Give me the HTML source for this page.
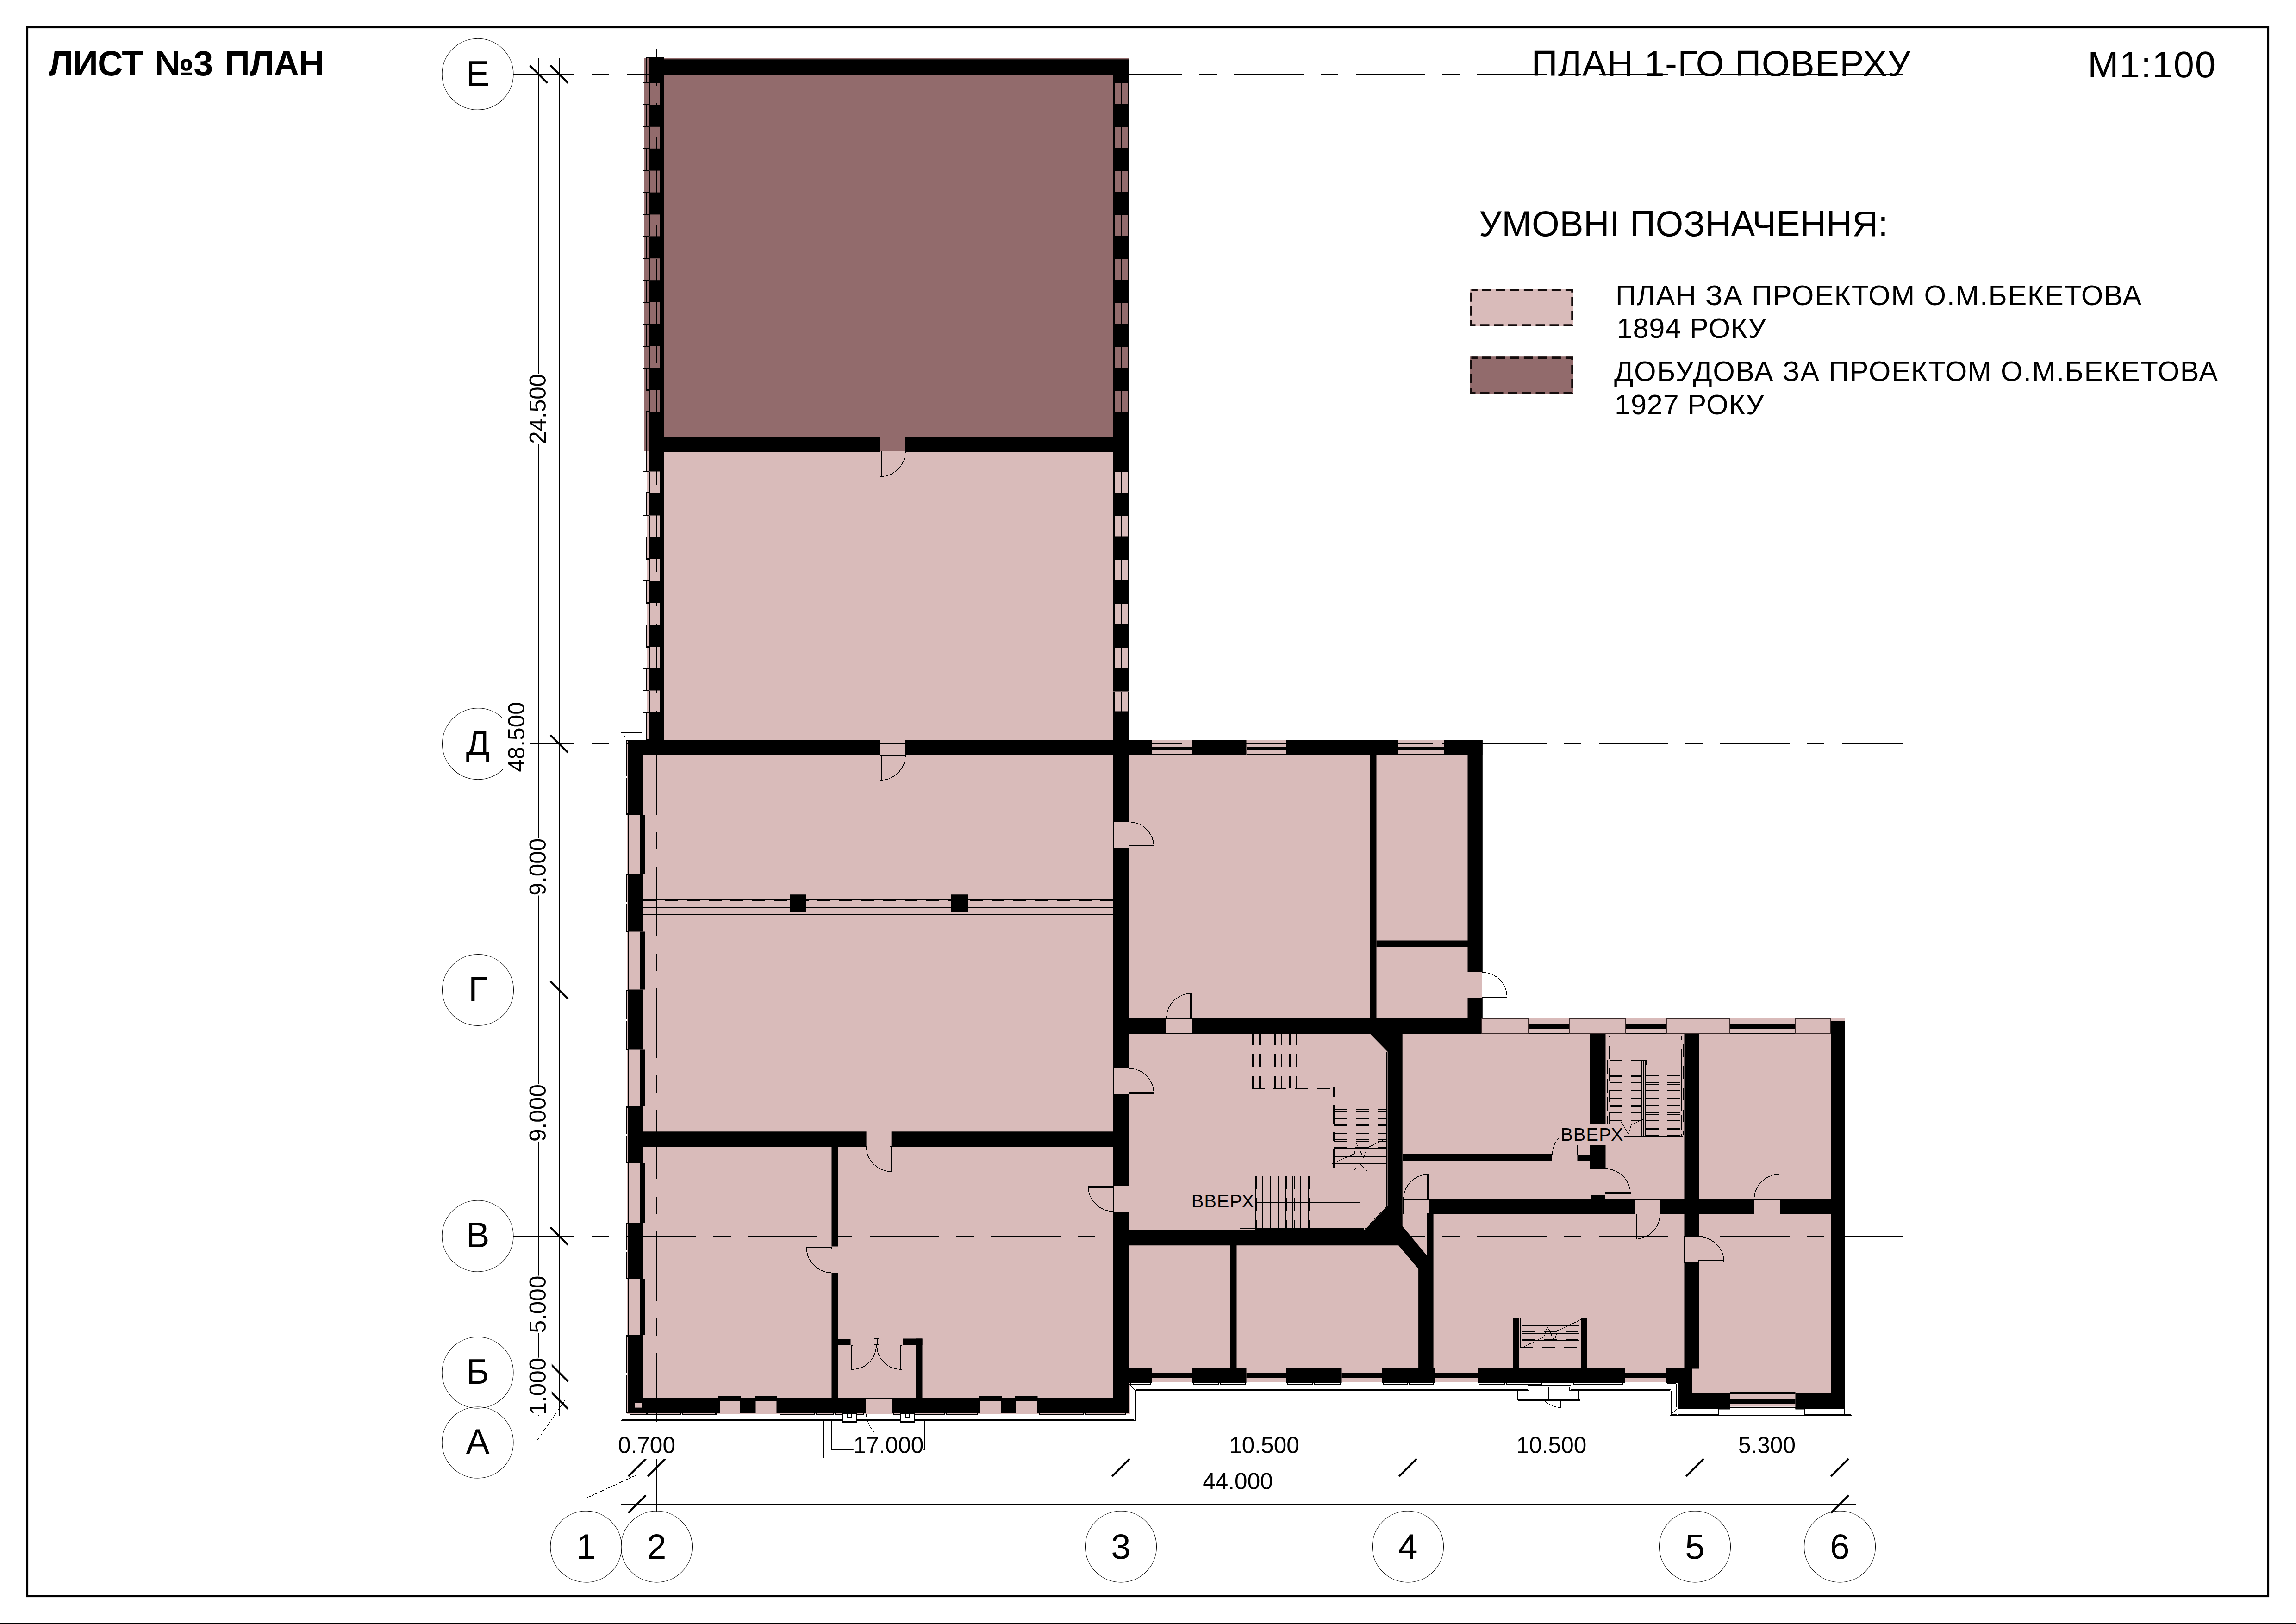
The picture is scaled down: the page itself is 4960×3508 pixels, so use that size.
<!DOCTYPE html>
<html lang="uk"><head><meta charset="utf-8"><title>ПЛАН 1-ГО ПОВЕРХУ</title>
<style>
html,body{margin:0;padding:0;background:#fff;}
body{width:4960px;height:3508px;overflow:hidden;}
svg{display:block;}
text{fill:#000;}
</style></head><body>
<svg width="4960" height="3508" viewBox="0 0 4960 3508">
<rect width="4960" height="3508" fill="#fff"/>
<g id="fills">
<rect x="1392" y="126" width="1047.6" height="848" fill="#926b6c"/>
<path fill="#d9bbba" d="M1398 974H2439.6V1598H3202V2200H3985V3044H3625V2986H2442V3055H1354V1598H1398Z"/>
<rect x="3737.5" y="3038.5" width="141" height="6" fill="#fff"/>
</g>
<g id="axes" stroke="#000" stroke-width="1" fill="none" shape-rendering="crispEdges">
<line x1="1109" y1="160.3" x2="4110" y2="160.3" stroke-dasharray="150 37.5 37.5 37.5" stroke-dashoffset="18"/>
<line x1="1109" y1="1606.8" x2="4110" y2="1606.8" stroke-dasharray="150 37.5 37.5 37.5" stroke-dashoffset="18"/>
<line x1="1109" y1="2138.5" x2="4110" y2="2138.5" stroke-dasharray="150 37.5 37.5 37.5" stroke-dashoffset="18"/>
<line x1="1109" y1="2670" x2="4110" y2="2670" stroke-dasharray="150 37.5 37.5 37.5" stroke-dashoffset="18"/>
<line x1="1109" y1="2965" x2="4110" y2="2965" stroke-dasharray="150 37.5 37.5 37.5" stroke-dashoffset="18"/>
<line x1="1225" y1="3024.3" x2="4110" y2="3024.3" stroke-dasharray="150 37.5 37.5 37.5" stroke-dashoffset="78.5"/>
<line x1="1418.5" y1="106" x2="1418.5" y2="3072" stroke-dasharray="150 37.5 37.5 37.5" stroke-dashoffset="71.5"/>
<line x1="1418.5" y1="3110" x2="1418.5" y2="3265"/>
<line x1="3041.5" y1="106" x2="3041.5" y2="3072" stroke-dasharray="150 37.5 37.5 37.5" stroke-dashoffset="71.5"/>
<line x1="3041.5" y1="3110" x2="3041.5" y2="3265"/>
<line x1="3661.5" y1="106" x2="3661.5" y2="3072" stroke-dasharray="150 37.5 37.5 37.5" stroke-dashoffset="71.5"/>
<line x1="3661.5" y1="3110" x2="3661.5" y2="3265"/>
<line x1="3974.5" y1="106" x2="3974.5" y2="3072" stroke-dasharray="150 37.5 37.5 37.5" stroke-dashoffset="71.5"/>
<line x1="3974.5" y1="3110" x2="3974.5" y2="3265"/>
<line x1="2421.5" y1="106" x2="2421.5" y2="3072" stroke-dasharray="150 37.5 37.5 37.5" stroke-dashoffset="71.5"/>
<line x1="2421.5" y1="3052" x2="2421.5" y2="3072"/>
<line x1="2421.5" y1="3110" x2="2421.5" y2="3265"/>
<line x1="1376.3" y1="1516" x2="1376.3" y2="1598"/>
<line x1="1376.3" y1="3062" x2="1376.3" y2="3095"/>
<line x1="1376.3" y1="3145" x2="1376.3" y2="3282"/>
<line x1="3974.5" y1="3265" x2="3974.5" y2="3282"/>
</g>
<g id="walls" fill="#000">
<rect x="1420" y="128.3" width="1019.6" height="32.7"/>
<rect x="1425" y="160" width="10" height="1438"/>
<rect x="1402" y="123.2" width="33" height="56.8"/>
<rect x="1402" y="160" width="33" height="19"/>
<rect x="1402" y="226" width="33" height="47.8"/>
<rect x="1402" y="320.8" width="33" height="47.8"/>
<rect x="1402" y="415.6" width="33" height="47.8"/>
<rect x="1402" y="510.4" width="33" height="47.8"/>
<rect x="1402" y="605.2" width="33" height="47.8"/>
<rect x="1402" y="700" width="33" height="47.8"/>
<rect x="1402" y="794.8" width="33" height="47.8"/>
<rect x="1402" y="889.6" width="33" height="128.9"/>
<rect x="1402" y="1064.5" width="33" height="49"/>
<rect x="1402" y="1160" width="33" height="47.5"/>
<rect x="1402" y="1254" width="33" height="48.5"/>
<rect x="1402" y="1350" width="33" height="47.5"/>
<rect x="1402" y="1444" width="33" height="47.5"/>
<rect x="1402" y="1539" width="33" height="59"/>
<rect x="2405" y="160" width="34" height="20"/>
<rect x="2405" y="224" width="34" height="51"/>
<rect x="2405" y="319" width="34" height="51"/>
<rect x="2405" y="414" width="34" height="51"/>
<rect x="2405" y="509" width="34" height="51"/>
<rect x="2405" y="604" width="34" height="51"/>
<rect x="2405" y="699" width="34" height="51"/>
<rect x="2405" y="794" width="34" height="51"/>
<rect x="2405" y="889" width="34" height="131"/>
<rect x="2405" y="1064" width="34" height="51"/>
<rect x="2405" y="1158.5" width="34" height="50.5"/>
<rect x="2405" y="1252.5" width="34" height="51.5"/>
<rect x="2405" y="1347.5" width="34" height="51.5"/>
<rect x="2405" y="1442.5" width="34" height="51"/>
<rect x="2405" y="1536.5" width="34" height="61.5"/>
<rect x="1435" y="943" width="466" height="33"/>
<rect x="1956" y="943" width="449" height="33"/>
<rect x="1357" y="1598" width="543" height="33"/>
<rect x="1956.5" y="1598" width="532" height="33"/>
<rect x="2574" y="1598" width="118.5" height="33"/>
<rect x="2779" y="1598" width="242" height="33"/>
<rect x="3120" y="1598" width="82.5" height="33"/>
<rect x="1357" y="1598" width="33" height="162"/>
<rect x="1357" y="1887.5" width="33" height="125"/>
<rect x="1357" y="2137.5" width="33" height="130"/>
<rect x="1357" y="2390" width="33" height="122.5"/>
<rect x="1357" y="2641.5" width="33" height="121"/>
<rect x="1357" y="2884" width="33" height="168.5"/>
<rect x="1382.5" y="1760" width="11" height="127.5"/>
<rect x="1382.5" y="2012.5" width="11" height="125"/>
<rect x="1382.5" y="2267.5" width="11" height="122.5"/>
<rect x="1382.5" y="2512.5" width="11" height="129"/>
<rect x="1382.5" y="2762.5" width="11" height="121.5"/>
<rect x="1357" y="3020" width="198" height="32.5"/>
<rect x="1599" y="3020" width="33.5" height="32.5"/>
<rect x="1677.5" y="3020" width="191.5" height="32.5"/>
<rect x="1926" y="3020" width="191.5" height="32.5"/>
<rect x="2162.5" y="3020" width="32.5" height="32.5"/>
<rect x="2240" y="3020" width="198.5" height="32.5"/>
<rect x="1552" y="3016" width="49" height="11"/>
<rect x="1630" y="3016" width="49" height="11"/>
<rect x="2115" y="3016" width="49" height="11"/>
<rect x="2192.5" y="3016" width="49" height="11"/>
<rect x="1372" y="3031" width="14.7" height="9.6" fill="#d9bbba"/>
<rect x="2405" y="1598" width="33.5" height="177"/>
<rect x="2405" y="1831.5" width="33.5" height="476"/>
<rect x="2405" y="2364" width="33.5" height="197"/>
<rect x="2405" y="2617.5" width="33.5" height="435"/>
<rect x="1390" y="2444.3" width="481.6" height="32.7"/>
<rect x="1925.7" y="2444.3" width="479.3" height="32.7"/>
<rect x="1796.5" y="2476" width="14.5" height="216.5"/>
<rect x="1796.5" y="2749" width="14.5" height="271"/>
<rect x="1811" y="2892.5" width="26.5" height="13.5"/>
<rect x="1950" y="2891.5" width="42.5" height="14.5"/>
<rect x="1978.5" y="2891.5" width="14" height="128.5"/>
<rect x="1706" y="1932.5" width="36" height="36.5"/>
<rect x="2054" y="1932.5" width="37" height="36.5"/>
<rect x="3170.5" y="1598" width="32.3" height="501.4"/>
<rect x="3170.5" y="2155.4" width="32.3" height="77.6"/>
<rect x="2438" y="2200" width="80.5" height="33"/>
<rect x="2575" y="2200" width="627.8" height="33"/>
<rect x="2960" y="1631" width="13.5" height="569"/>
<rect x="2973.5" y="2031.5" width="197.5" height="13.5"/>
<path d="M2958.6 2232H3029.7V2648.7L3082.6 2712.2V2620.6H3096.6V2956H3064.1V2741L3021.2 2690.3H2438V2657.5H2947.3L2997.6 2605.8V2271.7Z"/>
<rect x="2657.5" y="2690" width="14" height="266"/>
<rect x="2438.5" y="2956" width="50" height="31.5"/>
<rect x="2575" y="2956" width="117.5" height="31.5"/>
<rect x="2779" y="2956" width="119.5" height="31.5"/>
<rect x="2985" y="2956" width="114" height="31.5"/>
<rect x="3192.5" y="2956" width="317.5" height="31.5"/>
<rect x="3598.5" y="2956" width="26.5" height="31.5"/>
<rect x="2488.5" y="2965.5" width="86.5" height="11.5"/>
<rect x="2692.5" y="2965.5" width="86.5" height="11.5"/>
<rect x="2898.5" y="2965.5" width="86.5" height="11.5"/>
<rect x="3099" y="2965.5" width="93.5" height="11.5"/>
<rect x="3510" y="2965.5" width="88.5" height="11.5"/>
<rect x="3302" y="2211" width="88" height="11.5"/>
<rect x="3512" y="2211" width="88" height="11.5"/>
<rect x="3737" y="2211" width="141" height="11.5"/>
<rect x="3955" y="2205" width="30" height="838.5"/>
<rect x="3638.5" y="2232.5" width="31.5" height="437.5"/>
<rect x="3638.5" y="2727.5" width="31.5" height="229"/>
<rect x="3625" y="2956" width="31" height="87.5"/>
<rect x="3625" y="3010" width="112.5" height="33.5"/>
<rect x="3878.5" y="3010" width="106.5" height="33.5"/>
<rect x="3737.5" y="3007" width="141" height="5"/>
<rect x="3737.5" y="3021.2" width="141" height="11"/>
<rect x="3713" y="3042" width="24.5" height="2.5"/>
<rect x="3878.5" y="3042" width="18.5" height="2.5"/>
<rect x="3088" y="2590.3" width="442" height="31.7"/>
<rect x="3587.5" y="2590.3" width="201" height="31.7"/>
<rect x="3845" y="2590.3" width="110" height="31.7"/>
<rect x="3030" y="2493" width="322.5" height="14"/>
<rect x="3407.5" y="2495" width="27.5" height="12"/>
<rect x="3435" y="2474" width="33.5" height="51"/>
<rect x="3435" y="2232.5" width="33.5" height="196"/>
<rect x="3437" y="2581" width="31" height="10"/>
<rect x="3268.5" y="2846.5" width="13" height="109.5"/>
<rect x="3416" y="2846.5" width="13" height="109.5"/>
</g>
<g id="thin" stroke="#000" stroke-width="1" fill="none" shape-rendering="crispEdges">
<path d="M1901.2 974.5L1901.2 1029.5L1904.4 1029.5L1904.4 974.5Z" stroke-width="1.4"/>
<path d="M1904.4 1029.5A55 55 0 0 0 1956 974.5" stroke-width="1.4"/>
<path d="M1901.5 1631L1901.5 1685L1904.7 1685L1904.7 1631Z" stroke-width="1.4"/>
<path d="M1904.7 1685A54 54 0 0 0 1956 1631" stroke-width="1.4"/>
<path d="M2438.5 1829.5L2492.5 1829.5L2492.5 1826.3L2438.5 1826.3Z" stroke-width="1.4"/>
<path d="M2492.5 1826.3A54 54 0 0 0 2438.5 1775.5" stroke-width="1.4"/>
<path d="M2574 2200L2574 2146L2570.8 2146L2570.8 2200Z" stroke-width="1.4"/>
<path d="M2570.8 2146A54 54 0 0 0 2520 2200" stroke-width="1.4"/>
<path d="M3201.5 2154.8L3255.5 2154.8L3255.5 2151.6L3201.5 2151.6Z" stroke-width="1.4"/>
<path d="M3255.5 2151.6A54 54 0 0 0 3201.5 2100.5" stroke-width="1.4"/>
<path d="M2438.5 2362L2492.5 2362L2492.5 2358.8L2438.5 2358.8Z" stroke-width="1.4"/>
<path d="M2492.5 2358.8A54 54 0 0 0 2438.5 2308" stroke-width="1.4"/>
<path d="M2405 2562.5L2351 2562.5L2351 2565.7L2405 2565.7Z" stroke-width="1.4"/>
<path d="M2351 2565.7A54 54 0 0 0 2405 2616.5" stroke-width="1.4"/>
<path d="M1925.7 2476L1925.7 2530.5L1922.5 2530.5L1922.5 2476Z" stroke-width="1.4"/>
<path d="M1922.5 2530.5A54.5 54.5 0 0 1 1871.6 2476" stroke-width="1.4"/>
<path d="M1796.5 2695L1742.5 2695L1742.5 2698.2L1796.5 2698.2Z" stroke-width="1.4"/>
<path d="M1742.5 2698.2A54 54 0 0 0 1796.5 2749" stroke-width="1.4"/>
<path d="M1839 2906L1839 2958L1842.2 2958L1842.2 2906Z" stroke-width="1.4"/>
<path d="M1842.2 2958A52 52 0 0 0 1893 2906" stroke-width="1.4"/>
<path d="M1948.5 2906L1948.5 2958L1945.3 2958L1945.3 2906Z" stroke-width="1.4"/>
<path d="M1945.3 2958A52 52 0 0 1 1894.5 2906" stroke-width="1.4"/>
<path d="M3086 2591L3086 2537L3082.8 2537L3082.8 2591Z" stroke-width="1.4"/>
<path d="M3082.8 2537A54 54 0 0 0 3032 2591" stroke-width="1.4"/>
<path d="M3532 2622.5L3532 2676.5L3535.2 2676.5L3535.2 2622.5Z" stroke-width="1.4"/>
<path d="M3535.2 2676.5A54 54 0 0 0 3586 2622.5" stroke-width="1.4"/>
<path d="M3843.5 2591L3843.5 2537L3840.3 2537L3840.3 2591Z" stroke-width="1.4"/>
<path d="M3840.3 2537A54 54 0 0 0 3789.5 2591" stroke-width="1.4"/>
<path d="M3670 2726L3724 2726L3724 2722.8L3670 2722.8Z" stroke-width="1.4"/>
<path d="M3724 2722.8A54 54 0 0 0 3670 2672" stroke-width="1.4"/>
<path d="M3468 2579L3522 2579L3522 2575.8L3468 2575.8Z" stroke-width="1.4"/>
<path d="M3522 2575.8A54 54 0 0 0 3468 2525" stroke-width="1.4"/>
<path d="M3353 2495Q3355 2466 3372 2456"/>
<path d="M1889.4 2892H1897.8M1889.4 2905H1897.8" stroke-width="2"/>
<path d="M1892 2892V2905M1895 2892V2905M1893.5 2905V2912" stroke-width="1"/>
<path d="M3407.5 2474V2495"/>
<rect x="1900" y="1598" width="56.5" height="33"/>
<rect x="2405" y="1775" width="33.5" height="56.5"/>
<rect x="2518.5" y="2200" width="56.5" height="32.5"/>
<rect x="3171" y="2099.4" width="30.5" height="56"/>
<rect x="2405" y="2307.5" width="33.5" height="56.5"/>
<rect x="2405" y="2561" width="33.5" height="56.5"/>
<rect x="3031" y="2591" width="56.5" height="31.5"/>
<rect x="3530" y="2591" width="57.5" height="31.5"/>
<rect x="3788.5" y="2591" width="56.5" height="31.5"/>
<rect x="3638.5" y="2670" width="31.5" height="57.5"/>
<rect x="1869" y="3020" width="57" height="32.5"/>
<rect x="3200" y="2200.5" width="102" height="32" fill="#d9bbba" stroke="#3a2a2a" stroke-width="1.5"/>
<rect x="3390" y="2200.5" width="122" height="32" fill="#d9bbba" stroke="#3a2a2a" stroke-width="1.5"/>
<rect x="3600" y="2200.5" width="137" height="32" fill="#d9bbba" stroke="#3a2a2a" stroke-width="1.5"/>
<rect x="3878" y="2200.5" width="77" height="32" fill="#d9bbba" stroke="#3a2a2a" stroke-width="1.5"/>
<path d="M3302 2201H3390M3302 2232H3390"/>
<path d="M3512 2201H3600M3512 2232H3600"/>
<path d="M3737 2201H3878M3737 2232H3878"/>
<path d="M1386.5 108V1582.5M1388.8 110.5V1585"/>
<path d="M1386.5 108H1430.6V123M1388.5 110.5H1430"/>
<path d="M1402.5 124.5H1396V179H1402.5" stroke-width="2.6"/>
<path d="M1402.5 226H1396V273.8H1402.5" stroke-width="2.6"/>
<path d="M1402.5 320.8H1396V368.6H1402.5" stroke-width="2.6"/>
<path d="M1402.5 415.6H1396V463.4H1402.5" stroke-width="2.6"/>
<path d="M1402.5 510.4H1396V558.2H1402.5" stroke-width="2.6"/>
<path d="M1402.5 605.2H1396V653H1402.5" stroke-width="2.6"/>
<path d="M1402.5 700H1396V747.8H1402.5" stroke-width="2.6"/>
<path d="M1402.5 794.8H1396V842.6H1402.5" stroke-width="2.6"/>
<path d="M1402.5 889.6H1396V1018.5H1402.5" stroke-width="2.6"/>
<path d="M1402.5 1064.5H1396V1113.5H1402.5" stroke-width="2.6"/>
<path d="M1402.5 1160H1396V1207.5H1402.5" stroke-width="2.6"/>
<path d="M1402.5 1254H1396V1302.5H1402.5" stroke-width="2.6"/>
<path d="M1402.5 1350H1396V1397.5H1402.5" stroke-width="2.6"/>
<path d="M1402.5 1444H1396V1491.5H1402.5" stroke-width="2.6"/>
<path d="M1402.5 1539H1396V1598H1402.5" stroke-width="2.6"/>
<path d="M1389.5 179H1396M1389.5 226H1396M1403.7 179V226" stroke-width="1.4"/>
<path d="M1389.5 273.8H1396M1389.5 320.8H1396M1403.7 273.8V320.8" stroke-width="1.4"/>
<path d="M1389.5 368.6H1396M1389.5 415.6H1396M1403.7 368.6V415.6" stroke-width="1.4"/>
<path d="M1389.5 463.4H1396M1389.5 510.4H1396M1403.7 463.4V510.4" stroke-width="1.4"/>
<path d="M1389.5 558.2H1396M1389.5 605.2H1396M1403.7 558.2V605.2" stroke-width="1.4"/>
<path d="M1389.5 653H1396M1389.5 700H1396M1403.7 653V700" stroke-width="1.4"/>
<path d="M1389.5 747.8H1396M1389.5 794.8H1396M1403.7 747.8V794.8" stroke-width="1.4"/>
<path d="M1389.5 842.6H1396M1389.5 889.6H1396M1403.7 842.6V889.6" stroke-width="1.4"/>
<path d="M1389.5 1018.5H1396M1389.5 1064.5H1396M1403.7 1018.5V1064.5" stroke-width="1.4"/>
<path d="M1389.5 1113.5H1396M1389.5 1160H1396M1403.7 1113.5V1160" stroke-width="1.4"/>
<path d="M1389.5 1207.5H1396M1389.5 1254H1396M1403.7 1207.5V1254" stroke-width="1.4"/>
<path d="M1389.5 1302.5H1396M1389.5 1350H1396M1403.7 1302.5V1350" stroke-width="1.4"/>
<path d="M1389.5 1397.5H1396M1389.5 1444H1396M1403.7 1397.5V1444" stroke-width="1.4"/>
<path d="M1389.5 1491.5H1396M1389.5 1539H1396M1403.7 1491.5V1539" stroke-width="1.4"/>
<path d="M2406.5 180V224M2437.5 180V224" stroke-width="3"/>
<path d="M2421.5 180V224" stroke-width="2"/>
<path d="M2406.5 275V319M2437.5 275V319" stroke-width="3"/>
<path d="M2421.5 275V319" stroke-width="2"/>
<path d="M2406.5 370V414M2437.5 370V414" stroke-width="3"/>
<path d="M2421.5 370V414" stroke-width="2"/>
<path d="M2406.5 465V509M2437.5 465V509" stroke-width="3"/>
<path d="M2421.5 465V509" stroke-width="2"/>
<path d="M2406.5 560V604M2437.5 560V604" stroke-width="3"/>
<path d="M2421.5 560V604" stroke-width="2"/>
<path d="M2406.5 655V699M2437.5 655V699" stroke-width="3"/>
<path d="M2421.5 655V699" stroke-width="2"/>
<path d="M2406.5 750V794M2437.5 750V794" stroke-width="3"/>
<path d="M2421.5 750V794" stroke-width="2"/>
<path d="M2406.5 845V889M2437.5 845V889" stroke-width="3"/>
<path d="M2421.5 845V889" stroke-width="2"/>
<path d="M2406.5 1020V1064M2437.5 1020V1064" stroke-width="3"/>
<path d="M2421.5 1020V1064" stroke-width="2"/>
<path d="M2406.5 1115V1158.5M2437.5 1115V1158.5" stroke-width="3"/>
<path d="M2421.5 1115V1158.5" stroke-width="2"/>
<path d="M2406.5 1209V1252.5M2437.5 1209V1252.5" stroke-width="3"/>
<path d="M2421.5 1209V1252.5" stroke-width="2"/>
<path d="M2406.5 1304V1347.5M2437.5 1304V1347.5" stroke-width="3"/>
<path d="M2421.5 1304V1347.5" stroke-width="2"/>
<path d="M2406.5 1399V1442.5M2437.5 1399V1442.5" stroke-width="3"/>
<path d="M2421.5 1399V1442.5" stroke-width="2"/>
<path d="M2406.5 1493.5V1536.5M2437.5 1493.5V1536.5" stroke-width="3"/>
<path d="M2421.5 1493.5V1536.5" stroke-width="2"/>
<path d="M2488.5 1630H2574M2488.5 1607H2549M2488.5 1611.5H2574" stroke-width="1.5"/>
<path d="M2488.5 1616.5H2574" stroke-width="6.2"/>
<path d="M2692.5 1630H2779M2692.5 1607H2754M2692.5 1611.5H2779" stroke-width="1.5"/>
<path d="M2692.5 1616.5H2779" stroke-width="6.2"/>
<path d="M3021 1630H3120M3021 1607H3095M3021 1611.5H3120" stroke-width="1.5"/>
<path d="M3021 1616.5H3120" stroke-width="6.2"/>
<path d="M1357 1760V1887.5M1376 1785V1862.5"/>
<path d="M1357 2012.5V2137.5M1376 2037.5V2112.5"/>
<path d="M1357 2267.5V2390M1376 2292.5V2365"/>
<path d="M1357 2512.5V2641.5M1376 2537.5V2616.5"/>
<path d="M1357 2762.5V2884M1376 2787.5V2859"/>
<path d="M1357.5 1599.3H1354V1677M1354 1681V1758.7H1357.5" stroke-width="2.6"/>
<path d="M1357.5 1888.8H1354V1948M1354 1952V2011.2H1357.5" stroke-width="2.6"/>
<path d="M1357.5 2138.8H1354V2200.5M1354 2204.5V2266.2H1357.5" stroke-width="2.6"/>
<path d="M1357.5 2391.3H1354V2449.25M1354 2453.25V2511.2H1357.5" stroke-width="2.6"/>
<path d="M1357.5 2642.8H1354V2700M1354 2704V2761.2H1357.5" stroke-width="2.6"/>
<path d="M1357.5 2885.3H1354V2966.25M1354 2970.25V3051.2H1357.5" stroke-width="2.6"/>
<path d="M1389.5 1585H1343.5V3066M1386.5 1582.5H1341.5V3068.5H2452.5V3002.5M1343.5 3066H2450M1341.5 1582.5L1356 1597M2455 3001H3300V2992.4H3393V3001H3610M2452.5 3003.6H3302.8V2996.2H3390.7V3003.6H3607.5V3057.2H4000.7V3042M3610 3004.5V3055H3623M3984 3055H3998.5V3042M2440 2990L2452.5 3003.6M3607.5 3057.2L3623.5 3043M3713 3054.5H3897M3713 3056.5H3897M3737.5 3040.5H3878.5M3737.5 3043H3878.5"/>
<path d="M3625 3043V3055.7H3712V3043M3898.5 3043V3055.7H3984V3043M3621 2990V3040M3602 2989H3621" stroke-width="2.8"/>
<path d="M1361 3052V3055.5H1396.5V3052" stroke-width="2.8"/>
<path d="M1399 3052V3055.5H1470V3052" stroke-width="2.8"/>
<path d="M1474 3052V3055.5H1546.5V3052" stroke-width="2.8"/>
<path d="M1685 3052V3055.5H1760V3052" stroke-width="2.8"/>
<path d="M1764 3052V3055.5H1800V3052" stroke-width="2.8"/>
<path d="M1805 3052V3055.5H1865V3052" stroke-width="2.8"/>
<path d="M1930 3052V3055.5H2040V3052" stroke-width="2.8"/>
<path d="M2045 3052V3055.5H2111V3052" stroke-width="2.8"/>
<path d="M2246 3052V3055.5H2340V3052" stroke-width="2.8"/>
<path d="M2345 3052V3055.5H2432V3052" stroke-width="2.8"/>
<path d="M2442 2987V2990.5H2486V2987" stroke-width="2.6"/>
<path d="M2578 2987V2990.5H2632V2987" stroke-width="2.6"/>
<path d="M2636 2987V2990.5H2690V2987" stroke-width="2.6"/>
<path d="M2782 2987V2990.5H2836V2987" stroke-width="2.6"/>
<path d="M2840 2987V2990.5H2896V2987" stroke-width="2.6"/>
<path d="M2988 2987V2990.5H3040V2987" stroke-width="2.6"/>
<path d="M3044 2987V2990.5H3097V2987" stroke-width="2.6"/>
<path d="M3195 2987V2990.5H3250V2987" stroke-width="2.6"/>
<path d="M3254 2987V2990.5H3330V2987" stroke-width="2.6"/>
<path d="M3400 2987V2990.5H3505V2987" stroke-width="2.6"/>
<rect x="1820" y="3053" width="30" height="18" fill="#fff" stroke-width="3"/>
<rect x="1831" y="3053" width="8" height="8" fill="#fff" stroke-width="2"/>
<rect x="1945" y="3053" width="30" height="18" fill="#fff" stroke-width="3"/>
<rect x="1956" y="3053" width="8" height="8" fill="#fff" stroke-width="2"/>
<path d="M1778.3 3069V3149.3H2015.6V3069M1796.6 3069V3131.6H1997.5V3069M1870.7 3052.3Q1873 3078 1892 3098M1922 3052.3V3098M1924.3 3052.3V3098"/>
<path d="M1390 1926H2405M1390 1943H2405M1390 1960H2405M1390 1975.5H2405"/>
<path d="M1390 1929H2405M1390 1945.5H2405M1390 1961.5H2405" stroke-dasharray="28 19" stroke-width="1.5"/>
</g>
<rect x="1706" y="1932.5" width="36" height="36.5"/><rect x="2054" y="1932.5" width="37" height="36.5"/>
<g id="stairs" stroke="#000" stroke-width="1" fill="none" shape-rendering="crispEdges">
<path d="M2705 2232V2350" stroke-width="2" stroke-dasharray="28 19" stroke-dashoffset="2"/>
<path d="M2707.5 2232V2350" stroke-width="1" stroke-dasharray="28 19" stroke-dashoffset="2"/>
<path d="M2721 2232V2350" stroke-width="2" stroke-dasharray="28 19" stroke-dashoffset="2"/>
<path d="M2723.5 2232V2350" stroke-width="1" stroke-dasharray="28 19" stroke-dashoffset="2"/>
<path d="M2737 2232V2350" stroke-width="2" stroke-dasharray="28 19" stroke-dashoffset="2"/>
<path d="M2739.5 2232V2350" stroke-width="1" stroke-dasharray="28 19" stroke-dashoffset="2"/>
<path d="M2753 2232V2350" stroke-width="2" stroke-dasharray="28 19" stroke-dashoffset="2"/>
<path d="M2755.5 2232V2350" stroke-width="1" stroke-dasharray="28 19" stroke-dashoffset="2"/>
<path d="M2769 2232V2350" stroke-width="2" stroke-dasharray="28 19" stroke-dashoffset="2"/>
<path d="M2771.5 2232V2350" stroke-width="1" stroke-dasharray="28 19" stroke-dashoffset="2"/>
<path d="M2785 2232V2350" stroke-width="2" stroke-dasharray="28 19" stroke-dashoffset="2"/>
<path d="M2787.5 2232V2350" stroke-width="1" stroke-dasharray="28 19" stroke-dashoffset="2"/>
<path d="M2801 2232V2350" stroke-width="2" stroke-dasharray="28 19" stroke-dashoffset="2"/>
<path d="M2803.5 2232V2350" stroke-width="1" stroke-dasharray="28 19" stroke-dashoffset="2"/>
<path d="M2817 2232V2350" stroke-width="2" stroke-dasharray="28 19" stroke-dashoffset="2"/>
<path d="M2819.5 2232V2350" stroke-width="1" stroke-dasharray="28 19" stroke-dashoffset="2"/>
<path d="M2704 2348.6H2881.7V2540.8H2711.7M2704 2352.4H2877.3V2536H2711.7"/>
<path d="M2881.7 2348.6V2540.8" stroke-width="3" stroke-dasharray="20 18 40 18"/>
<path d="M2704 2352.4H2877" stroke-width="2" stroke-dasharray="28 19"/>
<path d="M2881.7 2399.5H2995.5" stroke-width="2" stroke-dasharray="28 19"/>
<path d="M2881.7 2396.5H2995.5" stroke-width="1" stroke-dasharray="28 19"/>
<path d="M2881.7 2415.85H2995.5" stroke-width="2" stroke-dasharray="28 19"/>
<path d="M2881.7 2412.85H2995.5" stroke-width="1" stroke-dasharray="28 19"/>
<path d="M2881.7 2432.2H2995.5" stroke-width="2" stroke-dasharray="28 19"/>
<path d="M2881.7 2429.2H2995.5" stroke-width="1" stroke-dasharray="28 19"/>
<path d="M2881.7 2448.55H2995.5" stroke-width="2" stroke-dasharray="28 19"/>
<path d="M2881.7 2445.55H2995.5" stroke-width="1" stroke-dasharray="28 19"/>
<path d="M2881.7 2464.9H2995.5" stroke-width="2" stroke-dasharray="28 19"/>
<path d="M2881.7 2461.9H2995.5" stroke-width="1" stroke-dasharray="28 19"/>
<path d="M2881.7 2481.25H2995.5" stroke-width="2"/>
<path d="M2881.7 2478.25H2995.5" stroke-width="1" stroke-dasharray="28 19"/>
<path d="M2881.7 2497.6H2995.5" stroke-width="2"/>
<path d="M2881.7 2494.6H2995.5" stroke-width="1" stroke-dasharray="28 19"/>
<path d="M2881.7 2513.95H2995.5" stroke-width="2"/>
<path d="M2881.7 2510.95H2995.5" stroke-width="1" stroke-dasharray="28 19"/>
<path d="M2711.7 2540.8V2653" stroke-width="2"/>
<path d="M2714.7 2540.8V2653" stroke-width="1" stroke-dasharray="28 19"/>
<path d="M2727.97 2540.8V2653" stroke-width="2"/>
<path d="M2730.97 2540.8V2653" stroke-width="1" stroke-dasharray="28 19"/>
<path d="M2744.24 2540.8V2653" stroke-width="2"/>
<path d="M2747.24 2540.8V2653" stroke-width="1" stroke-dasharray="28 19"/>
<path d="M2760.51 2540.8V2653" stroke-width="2"/>
<path d="M2763.51 2540.8V2653" stroke-width="1" stroke-dasharray="28 19"/>
<path d="M2776.78 2540.8V2653" stroke-width="2"/>
<path d="M2779.78 2540.8V2653" stroke-width="1" stroke-dasharray="28 19"/>
<path d="M2793.05 2540.8V2653" stroke-width="2"/>
<path d="M2796.05 2540.8V2653" stroke-width="1" stroke-dasharray="28 19"/>
<path d="M2809.32 2540.8V2653" stroke-width="2"/>
<path d="M2812.32 2540.8V2653" stroke-width="1" stroke-dasharray="28 19"/>
<path d="M2825.59 2540.8V2653" stroke-width="2"/>
<path d="M2828.59 2540.8V2653" stroke-width="1" stroke-dasharray="28 19"/>
<path d="M2677.7 2653H2946.8M2711 2655H2946.8"/>
<path d="M2711.7 2597.5H2938.5V2514.2M2924 2529L2938.5 2514.2L2952.7 2529"/>
<path d="M2877.3 2514.2L2926 2492L2930.5 2469.8L2946.2 2502.3L2952 2480L2995.5 2459.5"/>
<path d="M2948.3 2654.6L2995.5 2607V2272" />
<path d="M2996 2272V2460" stroke-width="2.5" stroke-dasharray="40 14"/>
<path d="M3473.5 2428V2235.3H3636V2452M3476 2428V2237.5H3632V2452" stroke-width="1.6" stroke-dasharray="27 20" stroke-dashoffset="0"/>
<path d="M3476.5 2290.3H3547" stroke-width="2" stroke-dasharray="28 19"/>
<path d="M3476.5 2293.3H3547" stroke-width="1" stroke-dasharray="28 19"/>
<path d="M3476.5 2306.55H3547" stroke-width="2" stroke-dasharray="28 19"/>
<path d="M3554.6 2306.55H3636" stroke-width="2" stroke-dasharray="28 19"/>
<path d="M3554.6 2309.55H3636" stroke-width="1" stroke-dasharray="28 19"/>
<path d="M3476.5 2322.8H3547" stroke-width="2" stroke-dasharray="28 19"/>
<path d="M3554.6 2322.8H3636" stroke-width="2" stroke-dasharray="28 19"/>
<path d="M3476.5 2325.8H3547" stroke-width="1" stroke-dasharray="28 19"/>
<path d="M3476.5 2339.05H3547" stroke-width="2" stroke-dasharray="28 19"/>
<path d="M3554.6 2339.05H3636" stroke-width="2" stroke-dasharray="28 19"/>
<path d="M3554.6 2342.05H3636" stroke-width="1" stroke-dasharray="28 19"/>
<path d="M3476.5 2355.3H3547" stroke-width="2" stroke-dasharray="28 19"/>
<path d="M3554.6 2355.3H3636" stroke-width="2" stroke-dasharray="28 19"/>
<path d="M3476.5 2358.3H3547" stroke-width="1" stroke-dasharray="28 19"/>
<path d="M3476.5 2371.55H3547" stroke-width="2" stroke-dasharray="28 19"/>
<path d="M3554.6 2371.55H3636" stroke-width="2" stroke-dasharray="28 19"/>
<path d="M3554.6 2374.55H3636" stroke-width="1" stroke-dasharray="28 19"/>
<path d="M3476.5 2387.8H3547" stroke-width="2" stroke-dasharray="28 19"/>
<path d="M3554.6 2387.8H3636" stroke-width="2" stroke-dasharray="28 19"/>
<path d="M3476.5 2390.8H3547" stroke-width="1" stroke-dasharray="28 19"/>
<path d="M3476.5 2404.05H3547" stroke-width="2" stroke-dasharray="28 19"/>
<path d="M3554.6 2404.05H3636" stroke-width="2" stroke-dasharray="28 19"/>
<path d="M3554.6 2407.05H3636" stroke-width="1" stroke-dasharray="28 19"/>
<path d="M3476.5 2420.3H3547" stroke-width="2" stroke-dasharray="28 19"/>
<path d="M3554.6 2420.3H3636" stroke-width="2" stroke-dasharray="28 19"/>
<path d="M3476.5 2423.3H3547" stroke-width="1" stroke-dasharray="28 19"/>
<path d="M3554.6 2436.55H3636" stroke-width="2" stroke-dasharray="28 19"/>
<path d="M3554.6 2439.55H3636" stroke-width="1" stroke-dasharray="28 19"/>
<path d="M3554.6 2452.8H3636" stroke-width="2" stroke-dasharray="28 19"/>
<path d="M3547 2290V2454M3550 2290V2454M3554.6 2290V2454M3545 2290H3557V2300" stroke-width="1.5"/>
<path d="M3473 2290V2428" stroke-width="2.5" stroke-dasharray="30 10"/>
<path d="M3632 2290V2454" stroke-width="2" stroke-dasharray="30 10"/>
<path d="M3508 2454H3636"/>
<path d="M3501 2421L3518 2450L3524 2430L3550 2418"/>
<path d="M3284 2847.2H3415"/>
<path d="M3284 2847.2H3415" stroke-width="2" stroke-dasharray="28 19"/>
<path d="M3288 2863H3411" stroke-width="2"/>
<path d="M3288 2860.5H3411" stroke-width="1.5" stroke-dasharray="28 19"/>
<path d="M3288 2879.5H3411" stroke-width="2"/>
<path d="M3288 2877H3411" stroke-width="1.5" stroke-dasharray="28 19"/>
<path d="M3288 2895.9H3411" stroke-width="2"/>
<path d="M3288 2893.4H3411" stroke-width="1.5" stroke-dasharray="28 19"/>
<path d="M3284 2911.4H3415"/>
<path d="M3284 2911.4H3415" stroke-width="2" stroke-dasharray="28 19"/>
<path d="M3284 2847V2912M3288 2847V2912M3411 2847V2912M3415 2847V2912"/>
<path d="M3289 2910.5L3335.5 2888L3342.8 2865.2L3358 2897.2L3364 2875.2L3415.7 2850.2"/>
<path d="M3278.6 3003.6V3024.3H3413V3003.6M3281.5 3003.6V3021.5H3410V3003.6M3345.5 2996V3022"/>
<path d="M3371.7 3024.3V3041.2H3374.5V3024.3M3335.5 3025.2Q3350 3039 3372 3041"/>
<path d="M3278.6 3024.3H3413" stroke-width="2.5"/>
</g>
<g id="dims" stroke="#000" stroke-width="1" fill="none" shape-rendering="crispEdges">
<path d="M1163.5 126V3059M1208 126V3059"/>
<path d="M1341 3170H4010M1341 3249H4010"/>
<path d="M1109 3116H1157.5L1220 3025"/>
<path d="M1266 3264V3236.5L1375 3186"/>
</g>
<g id="ticks" stroke="#000" stroke-width="4.2">
<path d="M1189 141.3L1227 179.3"/>
<path d="M1189 1587.8L1227 1625.8"/>
<path d="M1189 2119.5L1227 2157.5"/>
<path d="M1189 2651L1227 2689"/>
<path d="M1189 2946L1227 2984"/>
<path d="M1189 3005.3L1227 3043.3"/>
<path d="M1144.5 141.3L1182.5 179.3"/>
<path d="M1144.5 3005.3L1182.5 3043.3"/>
<path d="M1357.3 3189L1395.3 3151"/>
<path d="M1399.5 3189L1437.5 3151"/>
<path d="M2402.5 3189L2440.5 3151"/>
<path d="M3022.5 3189L3060.5 3151"/>
<path d="M3642.5 3189L3680.5 3151"/>
<path d="M3955.5 3189L3993.5 3151"/>
<path d="M1357.3 3268L1395.3 3230"/>
<path d="M3955.5 3268L3993.5 3230"/>
</g>
<rect x="1335.08" y="3093" width="123.849" height="59" fill="#fff"/>
<text x="1397" y="3139" font-size="49.5" text-anchor="middle" font-family="'Liberation Sans', sans-serif">0.700</text>
<rect x="1843.81" y="3093" width="151.371" height="59" fill="#fff"/>
<text x="1919.5" y="3139" font-size="49.5" text-anchor="middle" font-family="'Liberation Sans', sans-serif">17.000</text>
<text x="2731" y="3139" font-size="49.5" text-anchor="middle" font-family="'Liberation Sans', sans-serif">10.500</text>
<text x="3351.5" y="3139" font-size="49.5" text-anchor="middle" font-family="'Liberation Sans', sans-serif">10.500</text>
<text x="3817" y="3139" font-size="49.5" text-anchor="middle" font-family="'Liberation Sans', sans-serif">5.300</text>
<text x="2674" y="3217.4" font-size="49.5" text-anchor="middle" font-family="'Liberation Sans', sans-serif">44.000</text>
<rect x="1132.8" y="807.714" width="59" height="151.371" fill="#fff"/>
<text transform="translate(1178.8 883.4) rotate(-90)" font-size="49.5" text-anchor="middle" font-family="'Liberation Sans', sans-serif">24.500</text>
<rect x="1132.8" y="1810.68" width="59" height="123.849" fill="#fff"/>
<text transform="translate(1178.8 1872.6) rotate(-90)" font-size="49.5" text-anchor="middle" font-family="'Liberation Sans', sans-serif">9.000</text>
<rect x="1132.8" y="2342.08" width="59" height="123.849" fill="#fff"/>
<text transform="translate(1178.8 2404) rotate(-90)" font-size="49.5" text-anchor="middle" font-family="'Liberation Sans', sans-serif">9.000</text>
<rect x="1132.8" y="2755.58" width="59" height="123.849" fill="#fff"/>
<text transform="translate(1178.8 2817.5) rotate(-90)" font-size="49.5" text-anchor="middle" font-family="'Liberation Sans', sans-serif">5.000</text>
<rect x="1132.8" y="2932.68" width="59" height="123.849" fill="#fff"/>
<text transform="translate(1178.8 2994.6) rotate(-90)" font-size="49.5" text-anchor="middle" font-family="'Liberation Sans', sans-serif">1.000</text>
<g id="bubbles">
<circle cx="1032" cy="160.3" r="77" fill="none" stroke="#000" stroke-width="1.1"/>
<text x="1032" y="184.6" font-size="76" text-anchor="middle" font-family="'Liberation Sans', sans-serif">Е</text>
<circle cx="1032.5" cy="1606.8" r="77" fill="none" stroke="#000" stroke-width="1.1"/>
<text x="1032.5" y="1631.1" font-size="76" text-anchor="middle" font-family="'Liberation Sans', sans-serif">Д</text>
<circle cx="1032.5" cy="2138.5" r="77" fill="none" stroke="#000" stroke-width="1.1"/>
<text x="1032.5" y="2162.8" font-size="76" text-anchor="middle" font-family="'Liberation Sans', sans-serif">Г</text>
<circle cx="1032" cy="2670" r="77" fill="none" stroke="#000" stroke-width="1.1"/>
<text x="1032" y="2694.3" font-size="76" text-anchor="middle" font-family="'Liberation Sans', sans-serif">В</text>
<circle cx="1032" cy="2965" r="77" fill="none" stroke="#000" stroke-width="1.1"/>
<text x="1032" y="2989.3" font-size="76" text-anchor="middle" font-family="'Liberation Sans', sans-serif">Б</text>
<circle cx="1032" cy="3116" r="77" fill="none" stroke="#000" stroke-width="1.1"/>
<text x="1032" y="3140.3" font-size="76" text-anchor="middle" font-family="'Liberation Sans', sans-serif">А</text>
<circle cx="1266" cy="3341" r="77" fill="none" stroke="#000" stroke-width="1.1"/>
<text x="1266" y="3366.5" font-size="76" text-anchor="middle" font-family="'Liberation Sans', sans-serif">1</text>
<circle cx="1418.5" cy="3341" r="77" fill="none" stroke="#000" stroke-width="1.1"/>
<text x="1418.5" y="3366.5" font-size="76" text-anchor="middle" font-family="'Liberation Sans', sans-serif">2</text>
<circle cx="2421.5" cy="3341" r="77" fill="none" stroke="#000" stroke-width="1.1"/>
<text x="2421.5" y="3366.5" font-size="76" text-anchor="middle" font-family="'Liberation Sans', sans-serif">3</text>
<circle cx="3041.5" cy="3341" r="77" fill="none" stroke="#000" stroke-width="1.1"/>
<text x="3041.5" y="3366.5" font-size="76" text-anchor="middle" font-family="'Liberation Sans', sans-serif">4</text>
<circle cx="3661.5" cy="3341" r="77" fill="none" stroke="#000" stroke-width="1.1"/>
<text x="3661.5" y="3366.5" font-size="76" text-anchor="middle" font-family="'Liberation Sans', sans-serif">5</text>
<circle cx="3974.5" cy="3341" r="77" fill="none" stroke="#000" stroke-width="1.1"/>
<text x="3974.5" y="3366.5" font-size="76" text-anchor="middle" font-family="'Liberation Sans', sans-serif">6</text>
</g>
<rect x="1086.5" y="1516.31" width="59" height="151.371" fill="#fff"/>
<text transform="translate(1132.5 1592) rotate(-90)" font-size="49.5" text-anchor="middle" font-family="'Liberation Sans', sans-serif">48.500</text>
<text id="t1" x="105" y="163" font-size="75.7" font-weight="bold" letter-spacing="-0.7" word-spacing="5.5" font-family="'Liberation Sans', sans-serif">ЛИСТ №3 ПЛАН</text>
<text id="t2" x="3308.5" y="164.3" font-size="78" letter-spacing="1.3" font-family="'Liberation Sans', sans-serif">ПЛАН 1-ГО ПОВЕРХУ</text>
<text id="t3" x="4510" y="167" font-size="80" letter-spacing="1.9" font-family="'Liberation Sans', sans-serif">М1:100</text>
<text id="t4" x="3195" y="510.2" font-size="76.9" letter-spacing="0.5" font-family="'Liberation Sans', sans-serif">УМОВНІ ПОЗНАЧЕННЯ:</text>
<text id="t5" x="3490" y="659.2" font-size="61.2" letter-spacing="1.64" font-family="'Liberation Sans', sans-serif">ПЛАН ЗА ПРОЕКТОМ О.М.БЕКЕТОВА</text>
<text id="t6" x="3492.5" y="729.5" font-size="61.2" letter-spacing="0.9" font-family="'Liberation Sans', sans-serif">1894 РОКУ</text>
<text id="t7" x="3487" y="823.3" font-size="61.2" letter-spacing="1.57" font-family="'Liberation Sans', sans-serif">ДОБУДОВА ЗА ПРОЕКТОМ О.М.БЕКЕТОВА</text>
<text id="t8" x="3488" y="895.4" font-size="61.2" letter-spacing="0.9" font-family="'Liberation Sans', sans-serif">1927 РОКУ</text>
<text id="t9" x="2574" y="2607.7" font-size="39.5" letter-spacing="1.2" font-family="'Liberation Sans', sans-serif">ВВЕРХ</text>
<text id="t10" x="3371.5" y="2464.3" font-size="39.5" letter-spacing="1.2" font-family="'Liberation Sans', sans-serif">ВВЕРХ</text>
<rect x="3176" y="624" width="223" height="81" fill="#d9bbba"/>
<rect x="3178.4" y="626.4" width="218.2" height="76.2" fill="none" stroke="#140c0c" stroke-width="4.7" stroke-dasharray="20 10" stroke-dashoffset="6.5"/>
<rect x="3176" y="770.2" width="223" height="81" fill="#926b6c"/>
<rect x="3178.4" y="772.6" width="218.2" height="76.2" fill="none" stroke="#140c0c" stroke-width="4.7" stroke-dasharray="20 10" stroke-dashoffset="6.5"/>
<rect x="59" y="59" width="4841" height="3389" fill="none" stroke="#000" stroke-width="4.2"/>
<rect x="0" y="0" width="4960" height="1"/><rect x="0" y="0" width="1" height="3508"/><rect x="4959" y="0" width="1" height="3508"/><rect x="0" y="3506" width="4960" height="2"/>
</svg>
</body></html>
